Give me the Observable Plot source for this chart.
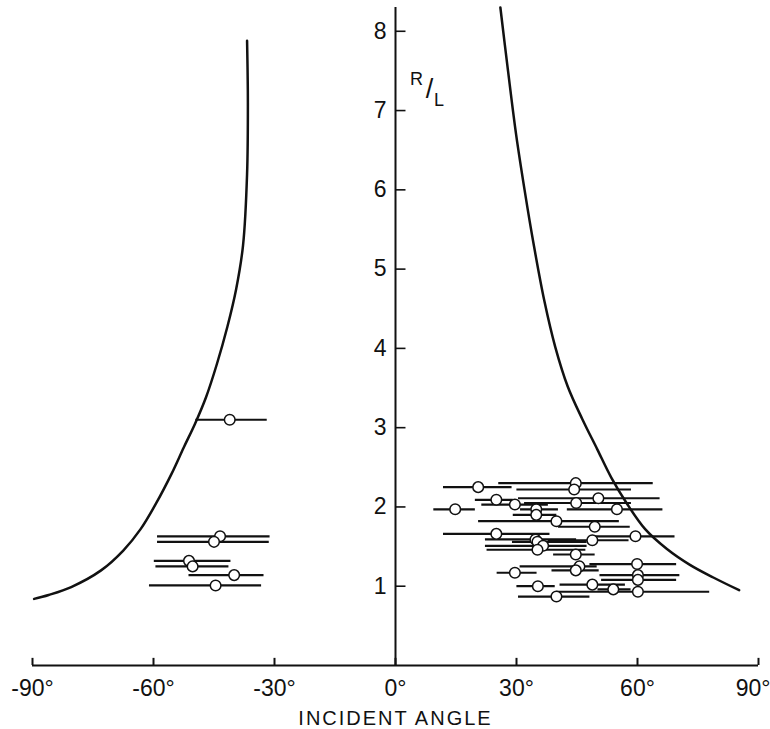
<!DOCTYPE html>
<html><head><meta charset="utf-8">
<script src="https://cdn.jsdelivr.net/npm/d3@7"></script>
<script src="https://cdn.jsdelivr.net/npm/@observablehq/plot@0.6"></script>
<style>body{margin:0;background:#fff}</style>
</head><body><div id="chart"></div>
<script>
// Theoretical boundary curves (incident angle in degrees, R/L)
const leftCurveX = [-36.8,-36.6,-36.8,-37.8,-39.5,-41.7,-44.3,-47.0,-49.7,-52.5,-55.5,-59.3,-63.2,-67.5,-73.0,-80.4,-86.0,-89.6];
const leftCurveY = [7.88,7.10,6.20,5.30,4.75,4.27,3.80,3.38,3.05,2.75,2.42,2.05,1.72,1.45,1.20,0.99,0.89,0.84];
const rightCurveX = [26.0,27.9,29.9,32.0,34.3,36.9,39.6,42.7,46.3,50.0,53.5,57.4,61.9,67.3,73.0,78.8,85.2];
const rightCurveY = [8.30,7.50,6.70,6.00,5.30,4.60,4.02,3.52,3.11,2.73,2.37,2.04,1.72,1.47,1.27,1.11,0.95];

// Observations: angle, R/L, angle range (low, high)
const pointAngle = [-41.1,-43.5,-45.0,-51.2,-50.3,-40.0,-44.6,
  20.5,44.7,44.3,25.0,29.6,50.3,44.8,54.9,14.8,34.9,34.9,39.9,49.4,25.0,59.5,34.7,35.2,48.8,36.6,35.2,44.7,59.9,45.6,44.7,29.6,60.1,60.1,35.3,48.8,54.0,60.1,39.9];
const pointRatio = [3.10,1.63,1.56,1.32,1.25,1.14,1.01,
  2.25,2.30,2.22,2.09,2.03,2.11,2.05,1.97,1.97,1.97,1.90,1.82,1.75,1.66,1.63,1.59,1.56,1.58,1.51,1.46,1.40,1.28,1.25,1.20,1.17,1.14,1.08,1.00,1.02,0.96,0.93,0.87];
const barLow = [-49.5,-59.0,-59.0,-59.8,-59.4,-51.2,-61.0,
  11.9,25.6,30.1,19.8,21.4,30.5,32.0,42.6,9.5,31.0,29.2,20.6,40.4,11.9,48.3,22.3,29.0,37.9,22.3,22.7,39.2,48.2,30.9,38.8,25.2,50.7,51.1,30.1,40.8,50.2,40.0,30.5];
const barHigh = [-31.8,-31.1,-31.3,-40.8,-41.3,-32.6,-33.2,
  28.9,63.9,58.5,29.2,37.9,65.6,58.5,66.3,19.8,40.4,40.0,55.5,58.2,38.3,69.3,44.9,47.5,57.9,47.5,47.2,49.5,69.7,50.0,50.5,35.1,70.5,69.7,39.6,57.0,58.4,77.9,48.2];

const xTicks = [-90,-60,-30,0,30,60,90];
const xTickLabels = ["-90°","-60°","-30°","0°","30°","60°","90°"];
const yTicks = [1,2,3,4,5,6,7,8];
const yTickLabels = ["1","2","3","4","5","6","7","8"];
const xTitle = "INCIDENT ANGLE";
const yTitleParts = ["R","/","L"];

const leftCurve = leftCurveX.map((x,i)=>({x, y:leftCurveY[i]}));
const rightCurve = rightCurveX.map((x,i)=>({x, y:rightCurveY[i]}));
const pts = pointAngle.map((a,i)=>({a, r:pointRatio[i], lo:barLow[i], hi:barHigh[i]}));
const xt = xTicks.map((v,i)=>({v, t:xTickLabels[i]}));
const yt = yTicks.map((v,i)=>({v, t:yTickLabels[i]}));
const xtInner = xt.filter(d => d.v < 90);
const xtLast = xt.filter(d => d.v === 90);

const font = "Liberation Sans, Arial, sans-serif";

const chart = Plot.plot({
  width: 770, height: 729,
  marginLeft: 32, marginRight: 12, marginTop: 7, marginBottom: 64,
  x: {domain: [-90, 90], axis: null},
  y: {domain: [0, 8.3], axis: null},
  style: {fontFamily: font, color: "#111", background: "#fff"},
  marks: [
    // axes
    Plot.ruleY([0], {x1: -90, x2: 90, stroke: "#111", strokeWidth: 2}),
    Plot.ruleX([0], {y1: 0, y2: 8.3, stroke: "#111", strokeWidth: 2}),
    Plot.ruleX(xt, {x: "v", y1: 0, y2: 0.09, stroke: "#111", strokeWidth: 2}),
    Plot.ruleY(yt, {y: "v", x1: 0, x2: 2.6, stroke: "#111", strokeWidth: 1.6}),
    Plot.text(xtInner, {x: "v", y: 0, text: "t", dy: 23, dx: 0, fontSize: 23, fill: "#111"}),
    Plot.text(xtLast, {x: "v", y: 0, text: "t", dy: 23, dx: 12, textAnchor: "end", fontSize: 23, fill: "#111"}),
    Plot.text(yt, {x: 0, y: "v", text: "t", dx: -9, textAnchor: "end", fontSize: 23, fill: "#111"}),
    Plot.text([xTitle], {x: 0, y: 0, text: d => d, dy: 53, fontSize: 20, fill: "#111"}),
    // R/L label
    Plot.text([yTitleParts[0]], {x: 5.2, y: 7.40, text: d => d, fontSize: 18, fill: "#111"}),
    Plot.text([yTitleParts[1]], {x: 8.4, y: 7.27, text: d => d, fontSize: 27, fill: "#111"}),
    Plot.text([yTitleParts[2]], {x: 10.8, y: 7.13, text: d => d, fontSize: 18, fill: "#111"}),
    // curves
    Plot.line(leftCurve, {x: "x", y: "y", curve: "catmull-rom", stroke: "#111", strokeWidth: 2.5}),
    Plot.line(rightCurve, {x: "x", y: "y", curve: "catmull-rom", stroke: "#111", strokeWidth: 2.5}),
    // error bars and points
    Plot.ruleY(pts, {y: "r", x1: "lo", x2: "hi", stroke: "#111", strokeWidth: 2.2}),
    Plot.dot(pts, {x: "a", y: "r", r: 5.3, fill: "#fff", stroke: "#111", strokeWidth: 1.5})
  ]
});
d3.select(chart).selectAll("text")
  .filter(function(){ return this.textContent === xTitle; })
  .attr("letter-spacing", "2px");
document.getElementById("chart").append(chart);
</script>
</body></html>
